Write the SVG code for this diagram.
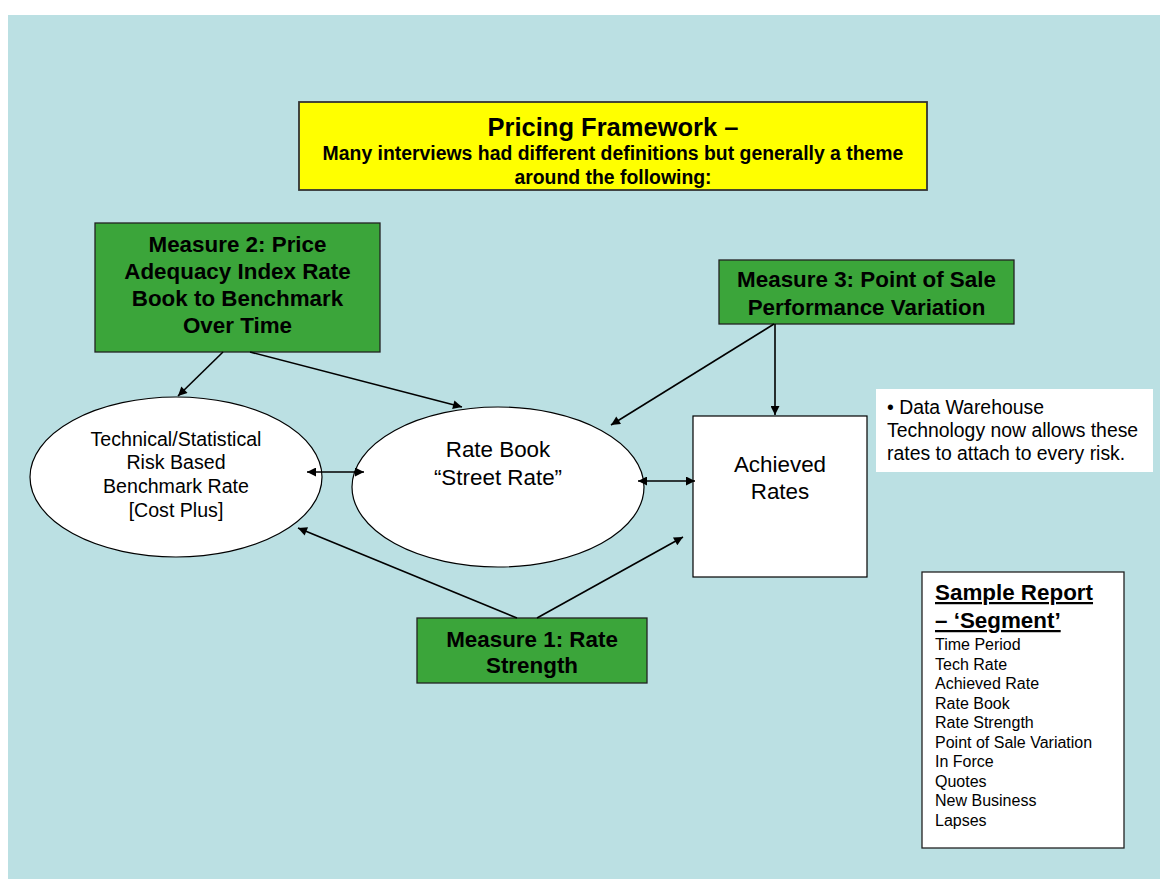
<svg xmlns="http://www.w3.org/2000/svg" width="1160" height="879" viewBox="0 0 1160 879">
<style>
text{font-family:"Liberation Sans",Arial,sans-serif;fill:#000}
.b{font-weight:bold}
.m{font-size:22.4px;font-weight:bold;text-anchor:middle}
.e{font-size:19.6px;text-anchor:middle}
.r{font-size:22.4px;text-anchor:middle}
.g{fill:#3BA53A;stroke:#222;stroke-width:1.3}
.w{fill:#fff;stroke:#000;stroke-width:1.2}
.c line{stroke:#000;stroke-width:1.6}
.l{font-size:16px}
</style>
<defs>
<marker id="ah" viewBox="0 0 10 10" refX="10" refY="5" markerWidth="11" markerHeight="9" markerUnits="userSpaceOnUse" orient="auto-start-reverse"><path d="M0,0 L10,5 L0,10 z" fill="#000"/></marker>
</defs>
<rect x="0" y="0" width="1160" height="879" fill="#fff"/>
<rect x="8" y="15" width="1152" height="864" fill="#BBE0E3"/>

<g id="title">
<rect x="299" y="102" width="628" height="88" fill="#FFFF00" stroke="#333" stroke-width="1.8"/>
<text x="613" y="136" class="b" font-size="25.5" text-anchor="middle">Pricing Framework –</text>
<text x="613" y="160" class="b" font-size="19.4" text-anchor="middle">Many interviews had different definitions but generally a theme</text>
<text x="613" y="184" class="b" font-size="19.4" text-anchor="middle">around the following:</text>
</g>

<g id="measure2">
<rect x="95" y="223" width="285" height="129" class="g"/>
<text class="m" x="237.5" y="252">Measure 2: Price</text>
<text class="m" x="237.5" y="279">Adequacy Index Rate</text>
<text class="m" x="237.5" y="306">Book to Benchmark</text>
<text class="m" x="237.5" y="333">Over Time</text>
</g>

<g id="measure3">
<rect x="719" y="260" width="295" height="64" class="g"/>
<text class="m" x="866.5" y="287">Measure 3: Point of Sale</text>
<text class="m" x="866.5" y="315">Performance Variation</text>
</g>

<g id="measure1">
<rect x="417" y="618" width="230" height="65" class="g"/>
<text class="m" x="532" y="647">Measure 1: Rate</text>
<text class="m" x="532" y="673">Strength</text>
</g>

<g id="benchmark">
<ellipse cx="176" cy="477" rx="146" ry="80" class="w"/>
<text class="e" x="176" y="446">Technical/Statistical</text>
<text class="e" x="176" y="469">Risk Based</text>
<text class="e" x="176" y="493">Benchmark Rate</text>
<text class="e" x="176" y="517">[Cost Plus]</text>
</g>

<g id="ratebook">
<ellipse cx="498" cy="487" rx="146" ry="80" class="w"/>
<text class="r" x="498" y="457">Rate Book</text>
<text class="r" x="498" y="485">“Street Rate”</text>
</g>

<g id="achieved">
<rect x="693" y="416" width="174" height="161" class="w"/>
<text class="r" x="780" y="472">Achieved</text>
<text class="r" x="780" y="499">Rates</text>
</g>

<g id="datawarehouse">
<rect x="876" y="389" width="277" height="83" fill="#fff"/>
<text x="887" y="414" font-size="19.4">• Data Warehouse</text>
<text x="887" y="437" font-size="19.4">Technology now allows these</text>
<text x="887" y="460" font-size="19.4">rates to attach to every risk.</text>
</g>

<g id="samplereport">
<rect x="922" y="572" width="202" height="276" fill="#fff" stroke="#222" stroke-width="1.3"/>
<text x="935" y="600" class="b" font-size="22.4" text-decoration="underline">Sample Report</text>
<text x="935" y="628" class="b" font-size="22.4" text-decoration="underline">– ‘Segment’</text>
<text class="l" x="935" y="650">Time Period</text>
<text class="l" x="935" y="669.5">Tech Rate</text>
<text class="l" x="935" y="689">Achieved Rate</text>
<text class="l" x="935" y="708.5">Rate Book</text>
<text class="l" x="935" y="728">Rate Strength</text>
<text class="l" x="935" y="747.5">Point of Sale Variation</text>
<text class="l" x="935" y="767">In Force</text>
<text class="l" x="935" y="786.5">Quotes</text>
<text class="l" x="935" y="806">New Business</text>
<text class="l" x="935" y="825.5">Lapses</text>
</g>

<g id="connectors" class="c">
<line x1="223" y1="352" x2="178" y2="396" marker-end="url(#ah)"/>
<line x1="250" y1="352" x2="462" y2="407" marker-end="url(#ah)"/>
<line x1="774" y1="324" x2="611" y2="425" marker-end="url(#ah)"/>
<line x1="775" y1="324" x2="775" y2="415" marker-end="url(#ah)"/>
<line x1="307" y1="472" x2="364" y2="472" marker-start="url(#ah)" marker-end="url(#ah)"/>
<line x1="638" y1="481" x2="695" y2="481" marker-start="url(#ah)" marker-end="url(#ah)"/>
<line x1="517" y1="618" x2="298" y2="528" marker-end="url(#ah)"/>
<line x1="537" y1="618" x2="683" y2="537" marker-end="url(#ah)"/>
</g>
</svg>
